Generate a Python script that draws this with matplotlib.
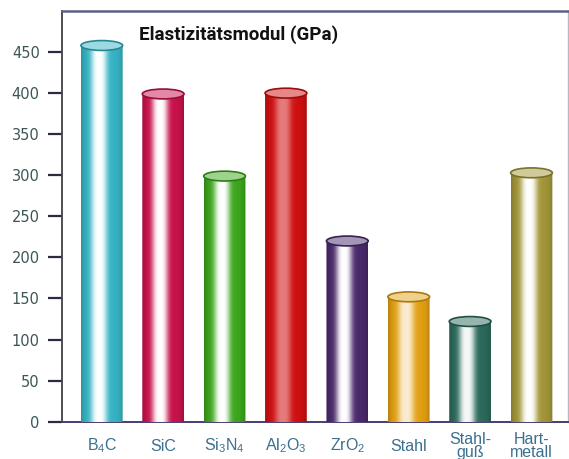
import numpy as np
import matplotlib
matplotlib.use("Agg")
import matplotlib.pyplot as plt
from matplotlib.patches import Ellipse, PathPatch
from matplotlib.path import Path
from matplotlib.colors import to_rgb

# Data
materials = [r"B$_4$C", "SiC", r"Si$_3$N$_4$", r"Al$_2$O$_3$", r"ZrO$_2$",
             "Stahl", "Stahl-\nguß", "Hart-\nmetall"]
modulus_gpa = [458, 399, 299, 400, 220, 152, 122, 303]
bar_colors = ["#36b4c4", "#c8124c", "#3ca61c", "#cf1010", "#4a2a6c",
              "#e2a012", "#2c6a5c", "#a29638"]
highlight = [1.0, 1.0, 1.0, 0.45, 1.0, 0.8, 0.95, 1.0]
yticks = [0, 50, 100, 150, 200, 250, 300, 350, 400, 450]
title = "Elastizitätsmodul (GPa)"

label_font = "Liberation Sans"
plt.rcParams["mathtext.fontset"] = "custom"
plt.rcParams["mathtext.rm"] = label_font
plt.rcParams["mathtext.it"] = label_font

W, H = 569, 459
fig = plt.figure(figsize=(W / 100, H / 100), dpi=100)
ax = fig.add_axes([62 / W, 1 - 421.7 / H, (567.7 - 62) / W, (421.7 - 11) / H])

x = np.arange(len(materials))
bw = 0.68
cap_h = 12.0  # ellipse height in data units

bars = ax.bar(x, modulus_gpa, width=bw, color="none", edgecolor="none", zorder=3)

# Cylinder shading: horizontal gradient with a white highlight left of centre
s = np.linspace(0, 1, 200)
for xi, val, col, hm in zip(x, modulus_gpa, bar_colors, highlight):
    base = np.array(to_rgb(col))
    m = hm * np.exp(-np.abs((s - 0.43) / 0.19) ** 3)
    dark = 1 - 0.2 * np.abs(2 * s - 1) ** 6
    rgb = base[None, :] * dark[:, None] * (1 - m[:, None]) + m[:, None]
    grad = np.clip(rgb, 0, 1)[None, :, :]

    left, right = xi - bw / 2, xi + bw / 2
    th = np.linspace(np.pi, 2 * np.pi, 40)
    arc = np.column_stack([xi + bw / 2 * np.cos(th), cap_h / 2 * np.sin(th)])
    verts = np.vstack([[left, val], arc, [right, val], [left, val]])
    codes = [Path.MOVETO] + [Path.LINETO] * (len(verts) - 2) + [Path.CLOSEPOLY]
    clip = PathPatch(Path(verts, codes), transform=ax.transData,
                     facecolor="none", edgecolor="none")
    im = ax.imshow(grad, extent=[left, right, -cap_h / 2, val],
                   aspect="auto", interpolation="bilinear", zorder=3)
    im.set_clip_path(clip)
    im.set_clip_box(None)

    top_fill = base * 0.5 + 0.5
    ax.add_patch(Ellipse((xi, val), bw, cap_h, facecolor=top_fill,
                         edgecolor=base * 0.75, linewidth=1.2, zorder=4))

ax.set_xlim(-0.648, 7.59)
ax.set_ylim(0, 500)

ax.set_yticks(yticks)
ax.set_yticklabels([str(t) for t in yticks], fontsize=10.5, color="#3c5656",
                   family="DejaVu Sans")
ax.tick_params(axis="y", direction="out", length=10, width=1.6,
               color="#2a2a40", pad=6)

ax.set_xticks(x)
ax.set_xticklabels(materials, fontsize=11.5, color="#3a6f8e",
                   family=label_font, linespacing=0.85)
ax.tick_params(axis="x", length=0, pad=17.5)
for lbl in ax.get_xticklabels():
    lbl.set_verticalalignment("center")

ax.spines["left"].set_color("#404048")
ax.spines["left"].set_linewidth(1.3)
ax.spines["bottom"].set_color("#4a3c70")
ax.spines["bottom"].set_linewidth(1.4)
ax.spines["top"].set_color("#5a6284")
ax.spines["top"].set_linewidth(1.8)
ax.spines["right"].set_color("#b8b8c0")
ax.spines["right"].set_linewidth(1.0)

fig.text(139 / W, 1 - 35 / H, title, fontsize=13.5, fontweight="bold",
         family="Roboto", color="#111111", va="center", ha="left")

fig.savefig("out.png", dpi=100, facecolor="white")
